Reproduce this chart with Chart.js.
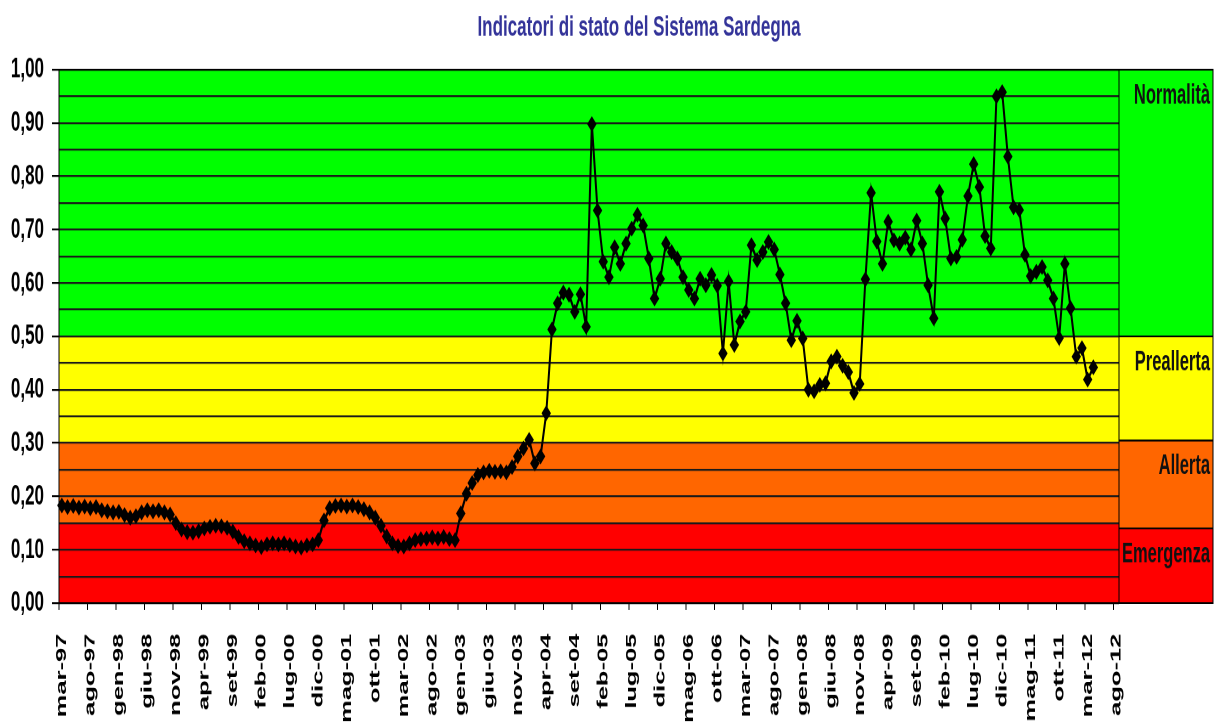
<html>
<head>
<title>Indicatori di stato del Sistema Sardegna</title>
<style>
  body { margin: 0; background: #fff; }
  #wrap { width: 1215px; height: 722px; overflow: hidden; position: relative; }
  /* the original picture is a stretched image: draw flat, then stretch */
  #grafico { transform: scaleY(1.6988); transform-origin: 0 0; display: block; }
</style>
</head>
<body>
<div id="wrap">
  <canvas id="grafico" width="1215" height="425"></canvas>
</div>
<script src="https://cdn.jsdelivr.net/npm/chart.js@4.4.1/dist/chart.umd.min.js"></script>
<script>
// mesi e anni (categorie mensili mar-97 ... ago-12)
var mesi = ['gen', 'feb', 'mar', 'apr', 'mag', 'giu', 'lug', 'ago', 'set', 'ott', 'nov', 'dic'];
var meseInizio = 2;   // marzo
var annoInizio = 1997;
var numMesi = 186;

// indicatore di stato, un valore al mese da mar-97 ad apr-12
var indicatore = [
  0.183, 0.180, 0.182, 0.179, 0.181, 0.178, 0.180, 0.174, 0.172, 0.170,                // 1997 (mar-dic)
  0.171, 0.165, 0.160, 0.163, 0.170, 0.174, 0.172, 0.174, 0.170, 0.166, 0.150, 0.138,  // 1998
  0.133, 0.132, 0.135, 0.140, 0.143, 0.145, 0.144, 0.141, 0.134, 0.124, 0.116, 0.112,  // 1999
  0.108, 0.105, 0.110, 0.112, 0.110, 0.112, 0.109, 0.106, 0.104, 0.108, 0.110, 0.118,  // 2000
  0.155, 0.178, 0.182, 0.183, 0.181, 0.183, 0.180, 0.176, 0.170, 0.160, 0.145, 0.125,  // 2001
  0.112, 0.107, 0.106, 0.112, 0.118, 0.120, 0.121, 0.123, 0.121, 0.124, 0.120, 0.118,  // 2002
  0.168, 0.205, 0.225, 0.240, 0.245, 0.248, 0.246, 0.247, 0.245, 0.255, 0.275, 0.290,  // 2003
  0.306, 0.262, 0.275, 0.356, 0.513, 0.562, 0.582, 0.578, 0.546, 0.579, 0.518, 0.898,  // 2004
  0.736, 0.640, 0.611, 0.667, 0.636, 0.674, 0.702, 0.728, 0.708, 0.646, 0.571, 0.608,  // 2005
  0.674, 0.658, 0.646, 0.611, 0.587, 0.571, 0.608, 0.596, 0.615, 0.595, 0.468, 0.603,  // 2006
  0.484, 0.528, 0.546, 0.671, 0.643, 0.658, 0.677, 0.663, 0.616, 0.562, 0.493, 0.529,  // 2007
  0.496, 0.400, 0.397, 0.409, 0.412, 0.453, 0.462, 0.445, 0.433, 0.394, 0.411, 0.607,  // 2008
  0.769, 0.678, 0.636, 0.715, 0.680, 0.674, 0.685, 0.663, 0.717, 0.674, 0.596, 0.534,  // 2009
  0.771, 0.721, 0.646, 0.649, 0.681, 0.763, 0.823, 0.780, 0.688, 0.665, 0.950, 0.958,  // 2010
  0.837, 0.742, 0.737, 0.653, 0.613, 0.621, 0.630, 0.605, 0.571, 0.497, 0.636, 0.553,  // 2011
  0.462, 0.478, 0.419, 0.442                                                           // 2012 (gen-apr)
];

// fasce di colore dentro il grafico
var fasceLimiti = [0, 0.15, 0.30, 0.50, 1.00];
var fasceColori = ['#ff0000', '#ff6600', '#ffff00', '#00ff00'];

// riquadro a destra con i nomi degli stati
var statiNomi = ['Emergenza', 'Allerta', 'Preallerta', 'Normalità'];
var statiLimiti = [0, 0.14, 0.305, 0.50, 1.00];

var titolo = 'Indicatori di stato del Sistema Sardegna';

// etichette mensili
var etichette = [];
for (var i = 0; i < numMesi; i++) {
  var m = (meseInizio + i) % 12;
  var a = annoInizio + Math.floor((meseInizio + i) / 12);
  etichette.push(mesi[m] + '-' + String(a).slice(2));
}

var fontBase = "'Liberation Sans', Arial, sans-serif";

var fascePlugin = {
  id: 'fasce',
  beforeDraw: function(chart) {
    var ctx = chart.ctx, area = chart.chartArea, y = chart.scales.y;
    ctx.save();
    for (var k = 0; k < fasceColori.length; k++) {
      var y1 = y.getPixelForValue(fasceLimiti[k + 1]);
      var y2 = y.getPixelForValue(fasceLimiti[k]);
      ctx.fillStyle = fasceColori[k];
      ctx.fillRect(area.left, y1, area.right - area.left, y2 - y1);
    }
    ctx.restore();
  },
  afterDraw: function(chart) {
    var ctx = chart.ctx, area = chart.chartArea, y = chart.scales.y;
    ctx.save();
    // cornice
    ctx.strokeStyle = '#000';
    ctx.lineWidth = 1;
    ctx.strokeRect(area.left, area.top, area.right - area.left, area.bottom - area.top);

    // riquadro stati
    var xl = area.right, xr = area.right + 94;
    for (var k = 0; k < statiNomi.length; k++) {
      var y1 = y.getPixelForValue(statiLimiti[k + 1]);
      var y2 = y.getPixelForValue(statiLimiti[k]);
      ctx.fillStyle = fasceColori[k];
      ctx.fillRect(xl, y1, xr - xl, y2 - y1);
      ctx.strokeStyle = '#000';
      ctx.strokeRect(xl, y1, xr - xl, y2 - y1);
      ctx.fillStyle = '#111';
      ctx.font = 'bold 16.5px ' + fontBase;
      ctx.textAlign = 'right';
      ctx.textBaseline = 'top';
      ctx.fillText(statiNomi[k], xr - 3, y1 + 7);
    }

    // titolo
    ctx.fillStyle = '#333399';
    ctx.font = 'bold 17px ' + fontBase;
    ctx.textAlign = 'center';
    ctx.textBaseline = 'middle';
    ctx.fillText(titolo, 639, 16.5);
    ctx.restore();
  }
};

var ctx = document.getElementById('grafico').getContext('2d');
var chart = new Chart(ctx, {
  type: 'line',
  data: {
    labels: etichette,
    datasets: [{
      label: 'Indicatore di stato',
      data: indicatore,
      borderColor: '#000',
      backgroundColor: '#000',
      borderWidth: 2,
      pointStyle: 'rectRot',
      pointRadius: 4,
      pointBorderWidth: 1,
      pointBorderColor: '#000',
      pointBackgroundColor: '#000',
      tension: 0,
      fill: false
    }]
  },
  options: {
    responsive: false,
    animation: false,
    devicePixelRatio: 2,
    layout: { padding: { top: 41, right: 96, left: 0, bottom: 0 } },
    plugins: {
      legend: { display: false },
      tooltip: { enabled: false },
      title: { display: false }
    },
    scales: {
      x: {
        type: 'category',
        offset: true,
        afterFit: function(scale) { scale.height = 70; },
        grid: {
          offset: true,
          drawOnChartArea: false,
          tickLength: 4,
          tickColor: function(c) { return (c.index !== undefined && c.index % 5 === 0) ? '#000' : 'rgba(0,0,0,0)'; }
        },
        border: { color: '#000', width: 1 },
        ticks: {
          autoSkip: false,
          minRotation: 90,
          maxRotation: 90,
          padding: 14,
          color: '#000',
          font: { family: fontBase, size: 15, weight: 'bold' },
          callback: function(val, idx) { return idx % 5 === 0 ? this.getLabelForValue(val) : ''; }
        }
      },
      y: {
        min: 0,
        max: 1,
        afterFit: function(scale) { scale.width = 59; },
        grid: {
          color: '#1a1a1a',
          lineWidth: 1.1,
          tickLength: 7,
          tickColor: function(c) {
            return (c.tick && Math.round(c.tick.value * 100) % 10 === 0) ? '#000' : 'rgba(0,0,0,0)';
          }
        },
        border: { color: '#000', width: 1 },
        ticks: {
          stepSize: 0.05,
          autoSkip: false,
          padding: 8,
          color: '#000',
          font: { family: fontBase, size: 17, weight: 'bold' },
          callback: function(v) {
            return Math.round(v * 100) % 10 === 0 ? v.toFixed(2).replace('.', ',') : '';
          }
        }
      }
    }
  },
  plugins: [fascePlugin]
});
</script>
</body>
</html>
